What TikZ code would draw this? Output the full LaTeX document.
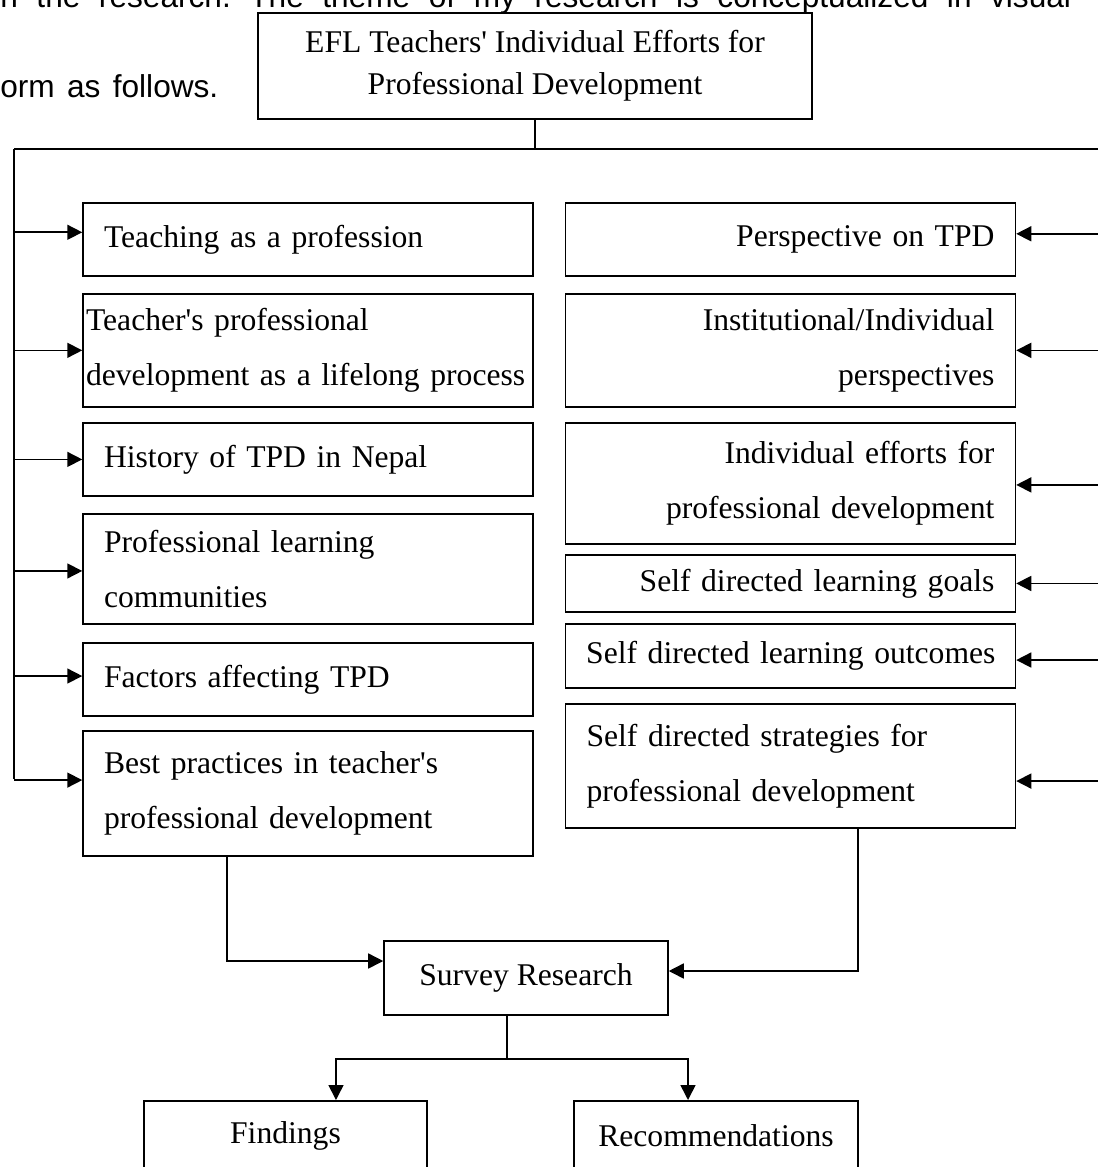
\documentclass[tikz,border=0pt]{standalone}
\usepackage{fontspec}
\newfontfamily\boxfont{Liberation Serif}
\newfontfamily\bodysans{Liberation Sans}
\usetikzlibrary{positioning,arrows.meta}
\frenchspacing
\tikzset{
topic/.style={
draw,
line width=0.9pt,
minimum width=9cm,
text width=8.16cm,
inner xsep=0.42cm,
inner ysep=0pt,
align=left,
font=\boxfont\fontsize{18pt}{31pt}\selectfont
},
rtopic/.style={
topic,
align=right
},
stage/.style={
draw,
line width=0.9pt,
inner sep=0pt,
align=center,
font=\boxfont\fontsize{18pt}{24pt}\selectfont
},
arrow/.style={
-{Triangle[length=3mm,width=3mm]},
line width=0.9pt
},
link/.style={
line width=0.9pt
}
}
\begin{document}
\begin{tikzpicture}[x=0.02cm,y=-0.02cm]
\useasboundingbox (0,0) rectangle (1098,1167);
\clip (0,0) rectangle (1098,1167);

% running text of the page
\node[anchor=base west,inner sep=0pt,font=\bodysans\fontsize{18pt}{20pt}\selectfont](intro)at(0,7){\makebox[21.42cm][s]{n the research. The theme of my research is conceptualized in visual}};
\node[anchor=base west,inner sep=0pt,font=\bodysans\fontsize{18pt}{20pt}\selectfont](follow)at(0,97){\makebox[4.36cm][s]{orm as follows.}};

% main theme
\node[stage,minimum width=11.08cm,minimum height=2.12cm](efforts)at(535,66){EFL Teachers' Individual Efforts for\\Professional Development};

% left column
\node[topic,minimum height=1.46cm,anchor=north](l1)at(308,202){Teaching as a profession};
\node[topic,minimum height=2.26cm,inner xsep=0.06cm,text width=8.88cm,below=0.33cm of l1](l2){Teacher's professional\\development as a lifelong process};
\node[topic,minimum height=1.46cm,below=0.29cm of l2](l3){History of TPD in Nepal};
\node[topic,minimum height=2.2cm,below=0.33cm of l3](l4){Professional learning\\communities};
\node[topic,minimum height=1.46cm,below=0.35cm of l4](l5){Factors affecting TPD};
\node[topic,minimum height=2.5cm,below=0.27cm of l5](l6){Best practices in teacher's\\professional development};

% right column
\node[rtopic,minimum height=1.46cm,anchor=north](r1)at(790.5,202){Perspective on TPD};
\node[rtopic,minimum height=2.26cm,below=0.33cm of r1](r2){Institutional/Individual\\perspectives};
\node[rtopic,minimum height=2.42cm,below=0.29cm of r2](r3){Individual efforts for\\professional development};
\node[rtopic,minimum height=1.14cm,below=0.19cm of r3](r4){Self directed learning goals};
\node[rtopic,minimum height=1.28cm,inner xsep=0.4cm,text width=8.2cm,below=0.21cm of r4](r5){Self directed learning outcomes};
\node[topic,minimum height=2.48cm,below=0.29cm of r5](r6){Self directed strategies for\\professional development};

% research and results
\node[stage,minimum width=5.68cm,minimum height=1.48cm](survey)at(526,978){Survey Research};
\node[stage,minimum width=5.66cm,minimum height=1.4cm,anchor=north](findings)at(285.5,1100){Findings};
\node[stage,minimum width=5.68cm,minimum height=1.4cm,anchor=north](recs)at(716,1100){Recommendations};

\coordinate(lrail)at(14,149);
\coordinate(rrail)at(1100,149);
\coordinate(split)at(507,1059);

\draw[link](efforts.south)--(efforts.south|-lrail);
\draw[link](lrail)--(rrail);
\draw[link](lrail)--(lrail|-{0,779});
\draw[link](rrail)--(rrail|-{0,780});

\foreach \n/\s in {l1/0.14,l2/0,l3/0,l4/-0.04,l5/0.07,l6/0.27}{
\coordinate(tip)at([yshift=\s cm]\n.west);
\draw[arrow](lrail|-tip)--(tip);
}
\foreach \n/\s in {r1/0.11,r2/0,r3/-0.03,r4/0,r5/-0.08,r6/-0.3}{
\coordinate(tip)at([yshift=\s cm]\n.east);
\draw[arrow](rrail|-tip)--(tip);
}

\draw[arrow]([xshift=-1.62cm]l6.south)|-([yshift=0.34cm]survey.west);
\draw[arrow]([xshift=1.35cm]r6.south)|-([yshift=0.14cm]survey.east);
\draw[link]([xshift=-0.38cm]survey.south)--(split);
\draw[arrow](split)-|([xshift=1.01cm]findings.north);
\draw[arrow](split)-|([xshift=-0.56cm]recs.north);
\end{tikzpicture}
\end{document}
